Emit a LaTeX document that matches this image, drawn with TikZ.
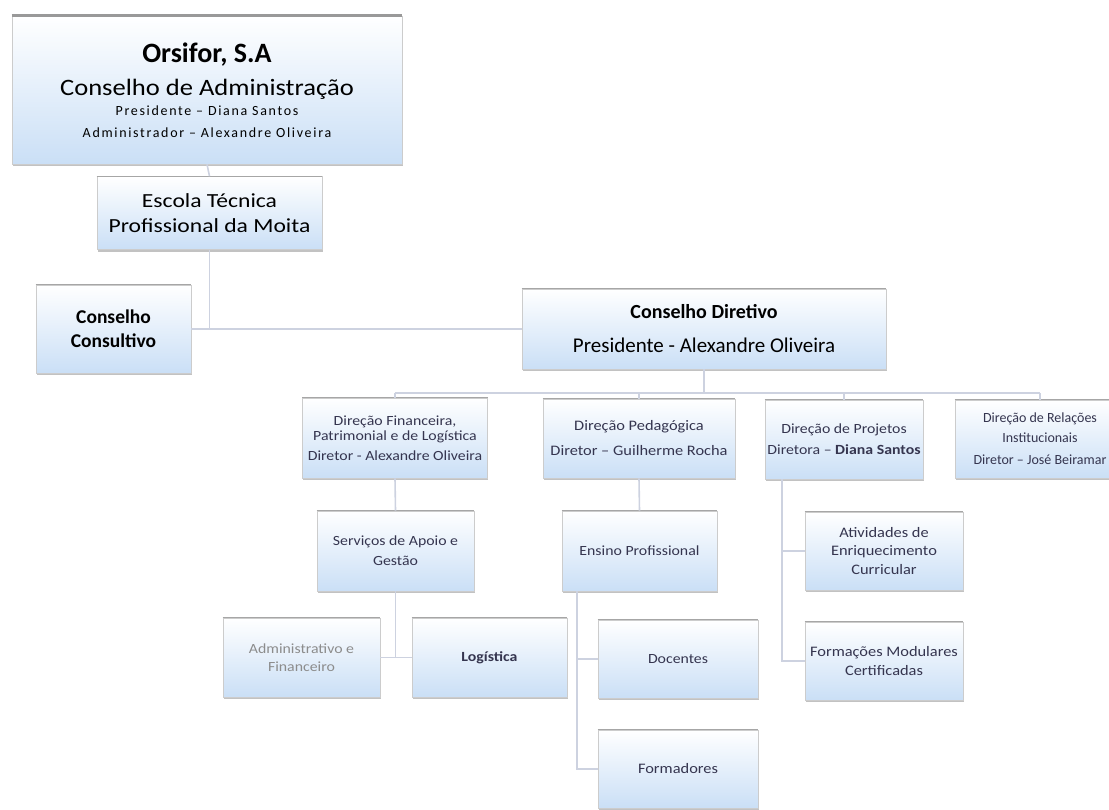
\documentclass[tikz,border=0pt]{standalone}
\usepackage{fontspec}
\setmainfont{Carlito}
\newfontfamily\stretchedfont{Carlito}[FakeStretch=1.13]
\newfontfamily\widerfont{Carlito}[FakeStretch=1.18]
\newfontfamily\spacedfont{Carlito}[LetterSpace=12]
\usetikzlibrary{shadows,calc}
\definecolor{boxblue}{HTML}{CADFF6}
\definecolor{linkgray}{HTML}{CDD2E0}
\definecolor{txtnavy}{HTML}{35354F}
\newcommand{\setfs}[2]{\fontsize{#1}{#2}\selectfont}
\newcommand{\looselines}{\lineskiplimit=-50pt\relax}
\tikzset{
  box/.style={draw=gray!40, line width=0.6pt, top color=white, middle color=white,
    bottom color=boxblue, align=center, inner sep=2pt,
    drop shadow={shadow xshift=0.5pt, shadow yshift=-2pt, fill=gray!80, opacity=0.6}},
  unit/.style={box, text=txtnavy},
  link/.style={draw=linkgray, line width=1.6pt},
  topline/.style={draw=gray!70, line width=1.2pt},
}

\begin{document}
\begin{tikzpicture}[x=1pt, y=-1pt]
  \useasboundingbox (0,0) rectangle (1109,809);

  % Top
  \node[box, minimum width=390pt, minimum height=148pt,
        font=\spacedfont\setfs{14}{22}\looselines] (orsifor) at (207,90)
    {\rmfamily\setfs{28}{30}\bfseries Orsifor, S.A\\[11pt]
     \stretchedfont\setfs{23.5}{26}Conselho de Administração\\[-2pt]
     Presidente – Diana Santos\\
     Administrador – Alexandre Oliveira};
  \node[box, minimum width=225pt, minimum height=73pt, font=\widerfont\setfs{20}{25}] (escola) at (209.5,213)
    {Escola Técnica\\Profissional da Moita};

  % Councils
  \node[box, minimum width=155pt, minimum height=88pt, font=\setfs{19.5}{24}\bfseries] (consultivo) at (113.5,329)
    {Conselho\\Consultivo};
  \node[box, minimum width=364pt, minimum height=80pt,
        font=\setfs{21}{25}\looselines] (diretivo) at (704,329)
    {\setfs{20}{22}\bfseries Conselho Diretivo\\[9pt]
     Presidente - Alexandre Oliveira};

  % Directions
  \node[unit, minimum width=185pt, minimum height=80pt, font=\stretchedfont\setfs{14}{15}] (financeira) at (395,438)
    {Direção Financeira,\\Patrimonial e de Logística\\[5pt]Diretor - Alexandre Oliveira};
  \node[unit, minimum width=192pt, minimum height=79pt, font=\stretchedfont\setfs{14.5}{25}] (pedagogica) at (639,438.5)
    {Direção Pedagógica\\Diretor – Guilherme Rocha};
  \node[unit, minimum width=158pt, minimum height=79pt, font=\stretchedfont\setfs{14}{21}] (projetos) at (844,439.5)
    {Direção de Projetos\\Diretora – \textbf{Diana Santos}};
  \node[unit, minimum width=170pt, minimum height=78pt, font=\setfs{14}{20}] (relacoes) at (1040,439)
    {Direção de Relações\\Institucionais\\[2pt]Diretor – José Beiramar};

  % Services
  \node[unit, minimum width=157pt, minimum height=80pt, font=\stretchedfont\setfs{14}{20}] (servicos) at (395.5,551)
    {Serviços de Apoio e\\Gestão};
  \node[unit, minimum width=155pt, minimum height=80pt, font=\stretchedfont\setfs{14}{20}] (ensino) at (639.5,551)
    {Ensino Profissional};
  \node[unit, minimum width=157pt, minimum height=79pt, font=\stretchedfont\setfs{14}{18.5}, text=gray!90] (admin) at (301.5,657.5)
    {Administrativo e\\Financeiro};
  \node[unit, minimum width=155pt, minimum height=79pt, font=\stretchedfont\setfs{14}{18}\bfseries] (logistica) at (489.5,657.5)
    {Logística};
  \node[unit, minimum width=160pt, minimum height=78pt, font=\stretchedfont\setfs{14}{18}] (docentes) at (678,659)
    {Docentes};
  \node[unit, minimum width=160pt, minimum height=78pt, font=\stretchedfont\setfs{14.5}{18}] (formadores) at (678,769)
    {Formadores};
  \node[unit, minimum width=158pt, minimum height=78pt, font=\stretchedfont\setfs{14.5}{18.5}] (atividades) at (884,551)
    {Atividades de\\Enriquecimento\\Curricular};
  \node[unit, minimum width=158pt, minimum height=78pt, font=\stretchedfont\setfs{14.5}{19}] (formacoes) at (884,661)
    {Formações Modulares\\Certificadas};

  % Darker top edges
  \draw[topline, line width=2.5pt, draw=gray!80] (orsifor.north west) -- (orsifor.north east);
  \foreach \n in {escola,consultivo,diretivo,financeira,pedagogica,projetos,relacoes,
                  servicos,ensino,admin,logistica,docentes,formadores,atividades,formacoes}
    \draw[topline] (\n.north west) -- (\n.north east);

  % Links
  \coordinate (bus) at (0,393);
  \coordinate (ensinoleg) at (577,591);
  \coordinate (projetosleg) at (782,479);
  \draw[link] (orsifor.south) -- (escola.north);
  \draw[link] (escola.south) -- (escola.south |- diretivo.west);
  \draw[link] (consultivo.east) -- (diretivo.west);
  \draw[link] (diretivo.south) -- (diretivo.south |- bus);
  \draw[link] (financeira.north |- bus) -- (relacoes.north |- bus);
  \foreach \n in {financeira,pedagogica,projetos,relacoes}
    \draw[link] (\n.north) -- (\n.north |- bus);
  \draw[link] (financeira.south) -- (servicos.north);
  \draw[link] (servicos.south) -- (servicos.south |- admin.east);
  \draw[link] (admin.east) -- (logistica.west);
  \draw[link] (pedagogica.south) -- (ensino.north);
  \draw[link] (ensinoleg) -- (ensinoleg |- formadores.west) -- (formadores.west);
  \draw[link] (ensinoleg |- docentes.west) -- (docentes.west);
  \draw[link] (projetosleg) -- (projetosleg |- formacoes.west) -- (formacoes.west);
  \draw[link] (projetosleg |- atividades.west) -- (atividades.west);
\end{tikzpicture}
\end{document}
